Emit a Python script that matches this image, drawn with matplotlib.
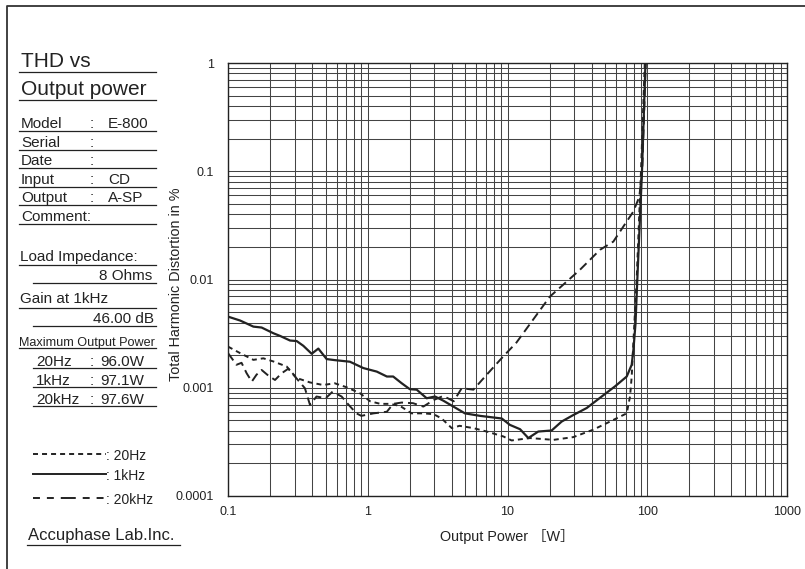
import matplotlib
matplotlib.use('Agg')
import matplotlib.pyplot as plt
from matplotlib.lines import Line2D
from matplotlib.ticker import FixedLocator, LogLocator, NullFormatter

# THD vs 출력 데이터
p_20 = [0.1, 0.122, 0.152, 0.179, 0.211, 0.263, 0.31, 0.386, 0.48, 0.58, 0.707, 0.88,
        1.04, 1.23, 1.44, 1.7, 2.06, 2.5, 2.96, 3.38, 3.99, 4.54, 5.69, 7.1, 9.33,
        10.7, 14.5, 21.3, 29.6, 41.1, 54.1, 71.3, 75.3, 77.4, 80, 84, 90.2, 96.0]
thd_20 = [0.0024, 0.00209, 0.00181, 0.00187, 0.00175, 0.00157, 0.00123, 0.00112, 0.00106,
          0.0011, 0.00101, 0.00089, 0.00075, 0.00071, 0.00071, 0.00068, 0.00058, 0.00058,
          0.00057, 0.00052, 0.000424, 0.000445, 0.000424, 0.000394, 0.000355, 0.000326,
          0.000343, 0.00033, 0.00035, 0.00041, 0.000487, 0.00058, 0.00083, 0.00127,
          0.003, 0.01, 0.1, 1.0]

p_1k = [0.1, 0.122, 0.152, 0.174, 0.211, 0.236, 0.278, 0.31, 0.346, 0.397, 0.443, 0.508,
        0.58, 0.745, 0.93, 1.16, 1.37, 1.52, 1.75, 2.0, 2.24, 2.64, 3.03, 3.47, 4.1, 4.96,
        6.36, 9.1, 10.4, 12.3, 14.1, 16.6, 20.7, 24.4, 29.6, 36.9, 47.2, 58.8, 71.3, 77.4,
        79.6, 82.4, 84.9, 91.7, 97.1]
thd_1k = [0.00454, 0.00418, 0.00367, 0.0036, 0.00319, 0.00301, 0.00273, 0.0027, 0.00244,
          0.00206, 0.0023, 0.00184, 0.0018, 0.00174, 0.00152, 0.00141, 0.00127, 0.00127,
          0.0011, 0.00097, 0.00096, 0.0008, 0.00083, 0.00076, 0.00067, 0.00058, 0.00055,
          0.00052, 0.000454, 0.000414, 0.000343, 0.000394, 0.000403, 0.000487, 0.00056,
          0.00065, 0.00083, 0.00103, 0.00127, 0.00163, 0.00224, 0.0039, 0.01, 0.1, 1.0]

p_20k = [0.1, 0.115, 0.125, 0.136, 0.148, 0.16, 0.174, 0.195, 0.217, 0.242, 0.27, 0.355,
         0.386, 0.43, 0.5, 0.56, 0.65, 0.73, 0.83, 0.9, 1.1, 1.37, 1.52, 1.75, 2.11, 2.5,
         2.96, 3.47, 4.12, 4.7, 5.7, 7.1, 9.3, 11.6, 20.1, 33, 45.9, 57.2, 67.4, 79.5,
         87.7, 92, 97.6]
thd_20k = [0.00209, 0.00163, 0.0017, 0.00136, 0.00114, 0.00132, 0.00146, 0.00129, 0.00118,
           0.00136, 0.0015, 0.00099, 0.000695, 0.00083, 0.0008, 0.00092, 0.00083, 0.000695,
           0.00058, 0.00055, 0.00058, 0.0006, 0.00071, 0.00073, 0.00072, 0.00067, 0.00077,
           0.00084, 0.00075, 0.00099, 0.00096, 0.00132, 0.00194, 0.00262, 0.00695, 0.0123,
           0.0188, 0.0224, 0.0308, 0.0424, 0.058, 0.1, 1.0]

x_ticks = [0.1, 1, 10, 100, 1000]
x_tick_labels = ['0.1', '1', '10', '100', '1000']
y_ticks = [0.0001, 0.001, 0.01, 0.1, 1]
y_tick_labels = ['0.0001', '0.001', '0.01', '0.1', '1']

info_labels = ['Model', 'Serial', 'Date', 'Input', 'Output']
info_values = ['E-800', '', '', 'CD', 'A-SP']
freq_names = ['20Hz', '1kHz', '20kHz']
max_power = ['96.0W', '97.1W', '97.6W']

plt.rcParams['font.family'] = ['Liberation Sans', 'Noto Sans CJK JP', 'DejaVu Sans']
plt.rcParams['lines.scale_dashes'] = False

ink = '#222222'
W, H = 805, 569
fig = plt.figure(figsize=(8.05, 5.69), dpi=100)


# 픽셀 좌표로 선/글자 배치
def hline(x0, x1, y, lw=0.9):
    fig.add_artist(Line2D([x0 / W, x1 / W], [1 - y / H] * 2, transform=fig.transFigure,
                          color=ink, lw=lw))


def label(x, y, s, size=11, ha='left', va='baseline'):
    fig.text(x / W, 1 - y / H, s, fontsize=size, ha=ha, va=va, color=ink)


# 바깥 테두리 (위, 왼쪽)
fig.add_artist(Line2D([7 / W, 7 / W, 1], [0, 1 - 6 / H, 1 - 6 / H], transform=fig.transFigure,
                      color='#333333', lw=1.3))

# 왼쪽 정보 패널
label(21, 67, 'THD vs', size=15)
hline(19, 156, 72)
label(21, 95, 'Output power', size=15)
hline(19, 156, 100)

for i, (name, value) in enumerate(zip(info_labels, info_values)):
    y = 131 + i * 18.6
    label(21, y - 3, name)
    label(90, y - 3, ':')
    label(108, y - 3, value)
    hline(19, 156, y)
label(21, 221, 'Comment:')
hline(19, 156, 224)

label(20, 261, 'Load Impedance:')
hline(19, 156, 265)
label(152, 279.5, '8 Ohms', ha='right')
hline(33, 156, 283)
label(20, 303, 'Gain at 1kHz')
hline(19, 156, 308)
label(154, 323, '46.00 dB', ha='right')
hline(33, 156, 326)
label(19, 346, 'Maximum Output Power', size=9.1)
hline(19, 156, 348)
for i, (name, value) in enumerate(zip(freq_names, max_power)):
    y = 368 + i * 19
    label(36, y - 2, name)
    label(90, y - 2, ':')
    label(100, y - 2, value)
    hline(33, 156, y)

# 범례
legend_styles = [dict(dashes=(3.6, 2.9)), dict(), dict(dashes=(5, 5, 5, 5, 10.8, 5, 5, 5, 5, 5))]
for name, style, y in zip(freq_names, legend_styles, [454, 474, 498]):
    fig.add_artist(Line2D([33 / W, 106 / W], [1 - y / H] * 2, transform=fig.transFigure,
                          color=ink, lw=1.4, **style))
    label(106, y, ': ' + name, size=10, va='center_baseline')

label(28, 540, 'Accuphase Lab.Inc.', size=12)
hline(27, 180, 545)

# 그래프 영역
ax = fig.add_axes([228 / W, 1 - 496 / H, (787 - 228) / W, (496 - 63) / H])
ax.set_xscale('log')
ax.set_yscale('log')

ax.plot(p_20, thd_20, color=ink, lw=1.4, dashes=(3.6, 2.9))
ax.plot(p_1k, thd_1k, color=ink, lw=1.6)
ax.plot(p_20k, thd_20k, color=ink, lw=1.4, dashes=(6.5, 3.6))

ax.set_xlim(0.1, 1000)
ax.set_ylim(0.0001, 1)
ax.xaxis.set_major_locator(FixedLocator(x_ticks))
ax.yaxis.set_major_locator(FixedLocator(y_ticks))
ax.set_xticklabels(x_tick_labels)
ax.set_yticklabels(y_tick_labels)
ax.xaxis.set_minor_locator(LogLocator(base=10, subs=range(2, 10), numticks=20))
ax.yaxis.set_minor_locator(LogLocator(base=10, subs=range(2, 10), numticks=20))
ax.xaxis.set_minor_formatter(NullFormatter())
ax.yaxis.set_minor_formatter(NullFormatter())

ax.grid(which='both', color='#444444', lw=0.75)
ax.set_axisbelow(True)
ax.tick_params(which='both', length=0, labelsize=9, labelcolor=ink)
ax.tick_params(axis='x', pad=7)
ax.tick_params(axis='y', pad=10)
for s in ax.spines.values():
    s.set_color(ink)
    s.set_linewidth(1.0)

ax.set_xlabel('Output Power ［W］', fontsize=10.4, color=ink)
ax.xaxis.set_label_coords(0.5, -0.077)
ax.set_ylabel('Total Harmonic Distortion in %', fontsize=10.4, color=ink)
ax.yaxis.set_label_coords(-0.08, 0.49)

fig.savefig('out.png', dpi=100)
